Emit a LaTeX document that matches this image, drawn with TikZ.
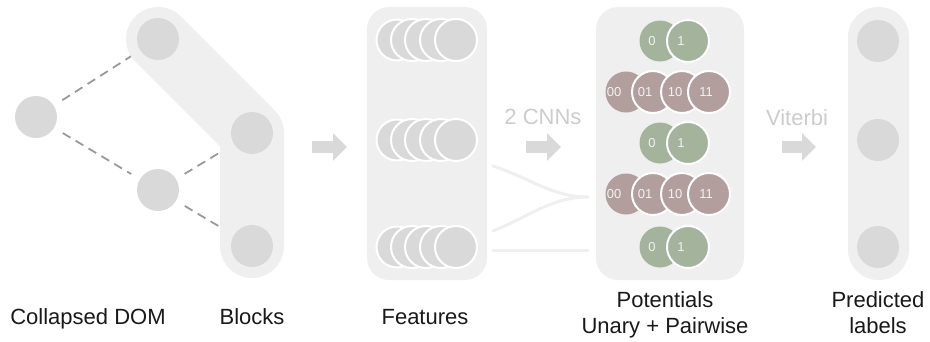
\documentclass[tikz,border=0pt]{standalone}
\usepackage{fontspec}
\setmainfont{Liberation Sans}
\usetikzlibrary{arrows.meta,backgrounds}

\definecolor{panelgray}{HTML}{EFEFEF}
\definecolor{nodegray}{HTML}{D9D9D9}
\definecolor{dashgray}{HTML}{999999}
\definecolor{notegray}{HTML}{CCCCCC}
\definecolor{unarygreen}{HTML}{A3B39C}
\definecolor{pairpink}{HTML}{B39E9E}

\tikzset{
  greydot/.style={circle,fill=nodegray,minimum size=42pt,inner sep=0pt},
  stackdot/.style={greydot,draw=white,line width=2pt},
  firstdot/.style={greydot,minimum size=41pt},
  unarydot/.style={stackdot,fill=unarygreen},
  pairdot/.style={stackdot,fill=pairpink},
  dotlab/.style={font=\fontsize{13}{15}\selectfont,text=white!90!gray,inner sep=0pt},
  panel/.style={rectangle,fill=panelgray,rounded corners=22pt,minimum height=273pt,inner sep=0pt},
  caption/.style={align=center,font=\fontsize{22}{26}\selectfont,text=black!90},
  note/.style={font=\fontsize{22}{26}\selectfont,text=notegray},
  bigarrow/.style={draw=nodegray,line width=12pt,-{Triangle[length=14pt,width=27pt]}},
  joinline/.style={draw=panelgray,line width=3pt,line cap=round},
}

\begin{document}
\begin{tikzpicture}[x=1pt,y=-1pt]
  \useasboundingbox (0,0) rectangle (930,341);

  % panels
  \node[panel,minimum width=120pt] (F) at (427,143.5) {};
  \node[panel,minimum width=148pt] (P) at (670,143.5) {};
  \node[panel,minimum width=61pt,rounded corners=30pt] (L) at (878.5,143.5) {};

  % collapsed DOM and blocks
  \begin{scope}[every node/.style={greydot}]
    \node (1) at (36,117)  {};
    \node (2) at (158,39)  {};
    \node (3) at (158,190) {};
    \node (4) at (252,133) {};
    \node (5) at (252,246) {};
  \end{scope}

  \begin{pgfonlayer}{background}
    \begin{scope}[every edge/.style={draw=dashgray,line width=1.8pt,dash pattern=on 9pt off 6pt,shorten <=10pt,shorten >=10pt}]
      \path (1) edge (2);
      \path (1) edge (3);
      \path (3) edge (4);
      \path (3) edge (5);
    \end{scope}
    \draw[panelgray,line width=64pt,line cap=round,line join=round] (2.center) -- (4.center) -- (5.center);
  \end{pgfonlayer}

  % features
  \begin{scope}[every node/.style={stackdot}]
    \node[firstdot] (f11) at (397,40)  {};
    \node (f12) at (412,40)  {};
    \node (f13) at (426,40)  {};
    \node (f14) at (441,40)  {};
    \node (f15) at (456,40)  {};
    \node[firstdot] (f21) at (397,140) {};
    \node (f22) at (412,140) {};
    \node (f23) at (426,140) {};
    \node (f24) at (441,140) {};
    \node (f25) at (456,140) {};
    \node[firstdot] (f31) at (397,247) {};
    \node (f32) at (412,247) {};
    \node (f33) at (426,247) {};
    \node (f34) at (441,247) {};
    \node (f35) at (456,247) {};
  \end{scope}

  % potentials
  \node[firstdot,fill=unarygreen,label={[dotlab,xshift=-8pt]center:0}]  (u11) at (660,41)  {};
  \node[unarydot,label={[dotlab,xshift=-7pt]center:1}]  (u12) at (688,41)  {};
  \node[firstdot,fill=pairpink,label={[dotlab,xshift=-12pt]center:00}] (p11) at (626,92)  {};
  \node[pairdot,label={[dotlab,xshift=-8pt]center:01}]  (p12) at (653,92)  {};
  \node[pairdot,label={[dotlab,xshift=-7pt]center:10}]  (p13) at (682,92)  {};
  \node[pairdot,label={[dotlab,xshift=-3pt]center:11}]  (p14) at (709,92)  {};
  \node[firstdot,fill=unarygreen,label={[dotlab,xshift=-8pt]center:0}]  (u21) at (660,143) {};
  \node[unarydot,label={[dotlab,xshift=-7pt]center:1}]  (u22) at (688,143) {};
  \node[firstdot,fill=pairpink,label={[dotlab,xshift=-12pt]center:00}] (p21) at (626,194) {};
  \node[pairdot,label={[dotlab,xshift=-8pt]center:01}]  (p22) at (653,194) {};
  \node[pairdot,label={[dotlab,xshift=-7pt]center:10}]  (p23) at (682,194) {};
  \node[pairdot,label={[dotlab,xshift=-3pt]center:11}]  (p24) at (709,194) {};
  \node[firstdot,fill=unarygreen,label={[dotlab,xshift=-8pt]center:0}]  (u31) at (660,247) {};
  \node[unarydot,label={[dotlab,xshift=-7pt]center:1}]  (u32) at (688,247) {};

  % predicted labels
  \begin{scope}[every node/.style={greydot}]
    \node (l1) at (878,41)  {};
    \node (l2) at (878,140) {};
    \node (l3) at (878,247) {};
  \end{scope}

  % arrows
  \coordinate (a1) at (312,147);
  \coordinate (a2) at (347,147);
  \coordinate (a3) at (526,147);
  \coordinate (a4) at (561,147);
  \coordinate (a5) at (782,147);
  \coordinate (a6) at (816,147);
  \draw[bigarrow] (a1) -- (a2);
  \draw[bigarrow] (a3) -- (a4);
  \draw[bigarrow] (a5) -- (a6);

  \node[note] (cnn) at (543,117) {2 CNNs};
  \node[note] (vit) at (797,118) {Viterbi};

  % feature lines
  \coordinate (c1) at (493,166);
  \coordinate (c2) at (493,231);
  \coordinate (c3) at (493,250);
  \coordinate (m1) at (588,197);
  \coordinate (m2) at (588,250);
  \draw[joinline] (c1) .. controls (530,178) and (552,197) .. (m1);
  \draw[joinline] (c2) .. controls (530,216) and (552,197) .. (m1);
  \draw[joinline] (c3) -- (m2);

  % captions
  \node[caption,anchor=base] (t1) at (88,324)  {Collapsed DOM};
  \node[caption,anchor=base] (t2) at (252,324) {Blocks};
  \node[caption,anchor=base] (t3) at (425,324) {Features};
  \node[caption] (t4) at (665,315) {Potentials\\Unary + Pairwise};
  \node[caption] (t5) at (878,313) {Predicted\\labels};

\end{tikzpicture}
\end{document}
